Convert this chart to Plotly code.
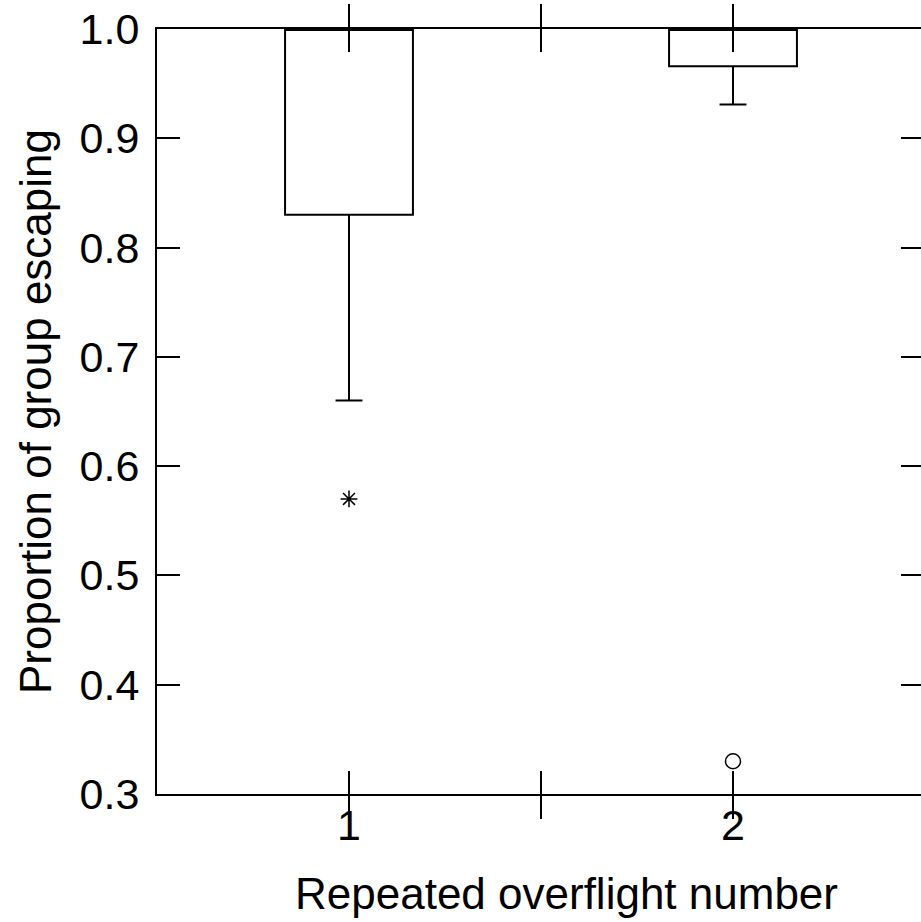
import plotly.graph_objects as go

# Data
categories = [1, 2]
q1 = [0.83, 0.966]
median = [1.0, 1.0]
q3 = [1.0, 1.0]
lower_whisker = [0.66, 0.931]
upper_whisker = [1.0, 1.0]
outlier_star_x = [1]
outlier_star_y = [0.57]
outlier_circle_x = [2]
outlier_circle_y = [0.33]
x_tickvals = [1, 1.5, 2]
x_ticktext = ["1", "", "2"]
y_tickvals = [0.3, 0.4, 0.5, 0.6, 0.7, 0.8, 0.9, 1.0]
y_ticktext = ["0.3", "0.4", "0.5", "0.6", "0.7", "0.8", "0.9", "1.0"]
x_title = "Repeated overflight number"
y_title = "Proportion of group escaping"

FONT = "Liberation Sans"
XRANGE = [0.5, 0.5 + 764 / 384]

fig = go.Figure()
fig.add_trace(go.Box(
    x=categories, q1=q1, median=median, q3=q3,
    lowerfence=lower_whisker, upperfence=upper_whisker,
    width=0.333, whiskerwidth=0.21,
    boxpoints=False,
    line=dict(color="black", width=2),
    fillcolor="rgba(0,0,0,0)",
    showlegend=False, hoverinfo="skip",
))
fig.add_trace(go.Scatter(
    x=outlier_star_x, y=outlier_star_y, mode="markers",
    marker=dict(symbol="asterisk-open", size=14, color="black",
                line=dict(color="black", width=1.5)),
    showlegend=False,
))
fig.add_trace(go.Scatter(
    x=outlier_circle_x, y=outlier_circle_y, mode="markers",
    marker=dict(symbol="circle-open", size=15, color="black",
                line=dict(color="black", width=1.5)),
    showlegend=False,
))
# invisible traces to activate helper axes (right ticks, bottom labels)
fig.add_trace(go.Scatter(x=[1], y=[0.5], yaxis="y2", mode="markers",
                         marker=dict(opacity=0), showlegend=False, hoverinfo="skip"))
fig.add_trace(go.Scatter(x=[1], y=[0.5], xaxis="x2", mode="markers",
                         marker=dict(opacity=0), showlegend=False, hoverinfo="skip"))

fig.update_layout(
    width=921, height=922,
    margin=dict(l=157, r=0, t=29, b=128),
    paper_bgcolor="white", plot_bgcolor="white",
    font=dict(family=FONT, size=43, color="black"),
    xaxis=dict(
        range=XRANGE,
        tickvals=x_tickvals, showticklabels=False,
        ticks="inside", ticklen=23, tickwidth=2, tickcolor="black",
        showline=True, linewidth=2, linecolor="black", mirror="allticks",
        showgrid=False, zeroline=False,
    ),
    xaxis2=dict(
        range=XRANGE, overlaying="x", side="bottom", anchor="free", position=0,
        tickvals=x_tickvals, ticktext=x_ticktext,
        ticks="", showline=False, showgrid=False, zeroline=False,
        ticklabelstandoff=2,
        tickfont=dict(family=FONT, size=43),
    ),
    yaxis=dict(
        range=[0.3, 1.0],
        tickvals=y_tickvals, ticktext=y_ticktext,
        ticks="inside", ticklen=23, tickwidth=2, tickcolor="black",
        showline=True, linewidth=2, linecolor="black",
        showgrid=False, zeroline=False,
        ticklabelstandoff=7,
        title=dict(text=y_title, standoff=14, font=dict(family=FONT, size=44)),
        tickfont=dict(family=FONT, size=43),
    ),
    yaxis2=dict(
        range=[0.3, 1.0], overlaying="y", side="right", anchor="x",
        tickvals=y_tickvals, showticklabels=False,
        ticks="inside", ticklen=20, tickwidth=2, tickcolor="black",
        showline=False, showgrid=False, zeroline=False,
    ),
    annotations=[dict(
        text=x_title, xref="paper", yref="paper",
        x=(566 - 157) / 764, y=(794 - 867) / 765,
        xanchor="center", yanchor="top", showarrow=False,
        font=dict(family=FONT, size=44, color="black"),
    )],
)

fig.write_html("out.html")
